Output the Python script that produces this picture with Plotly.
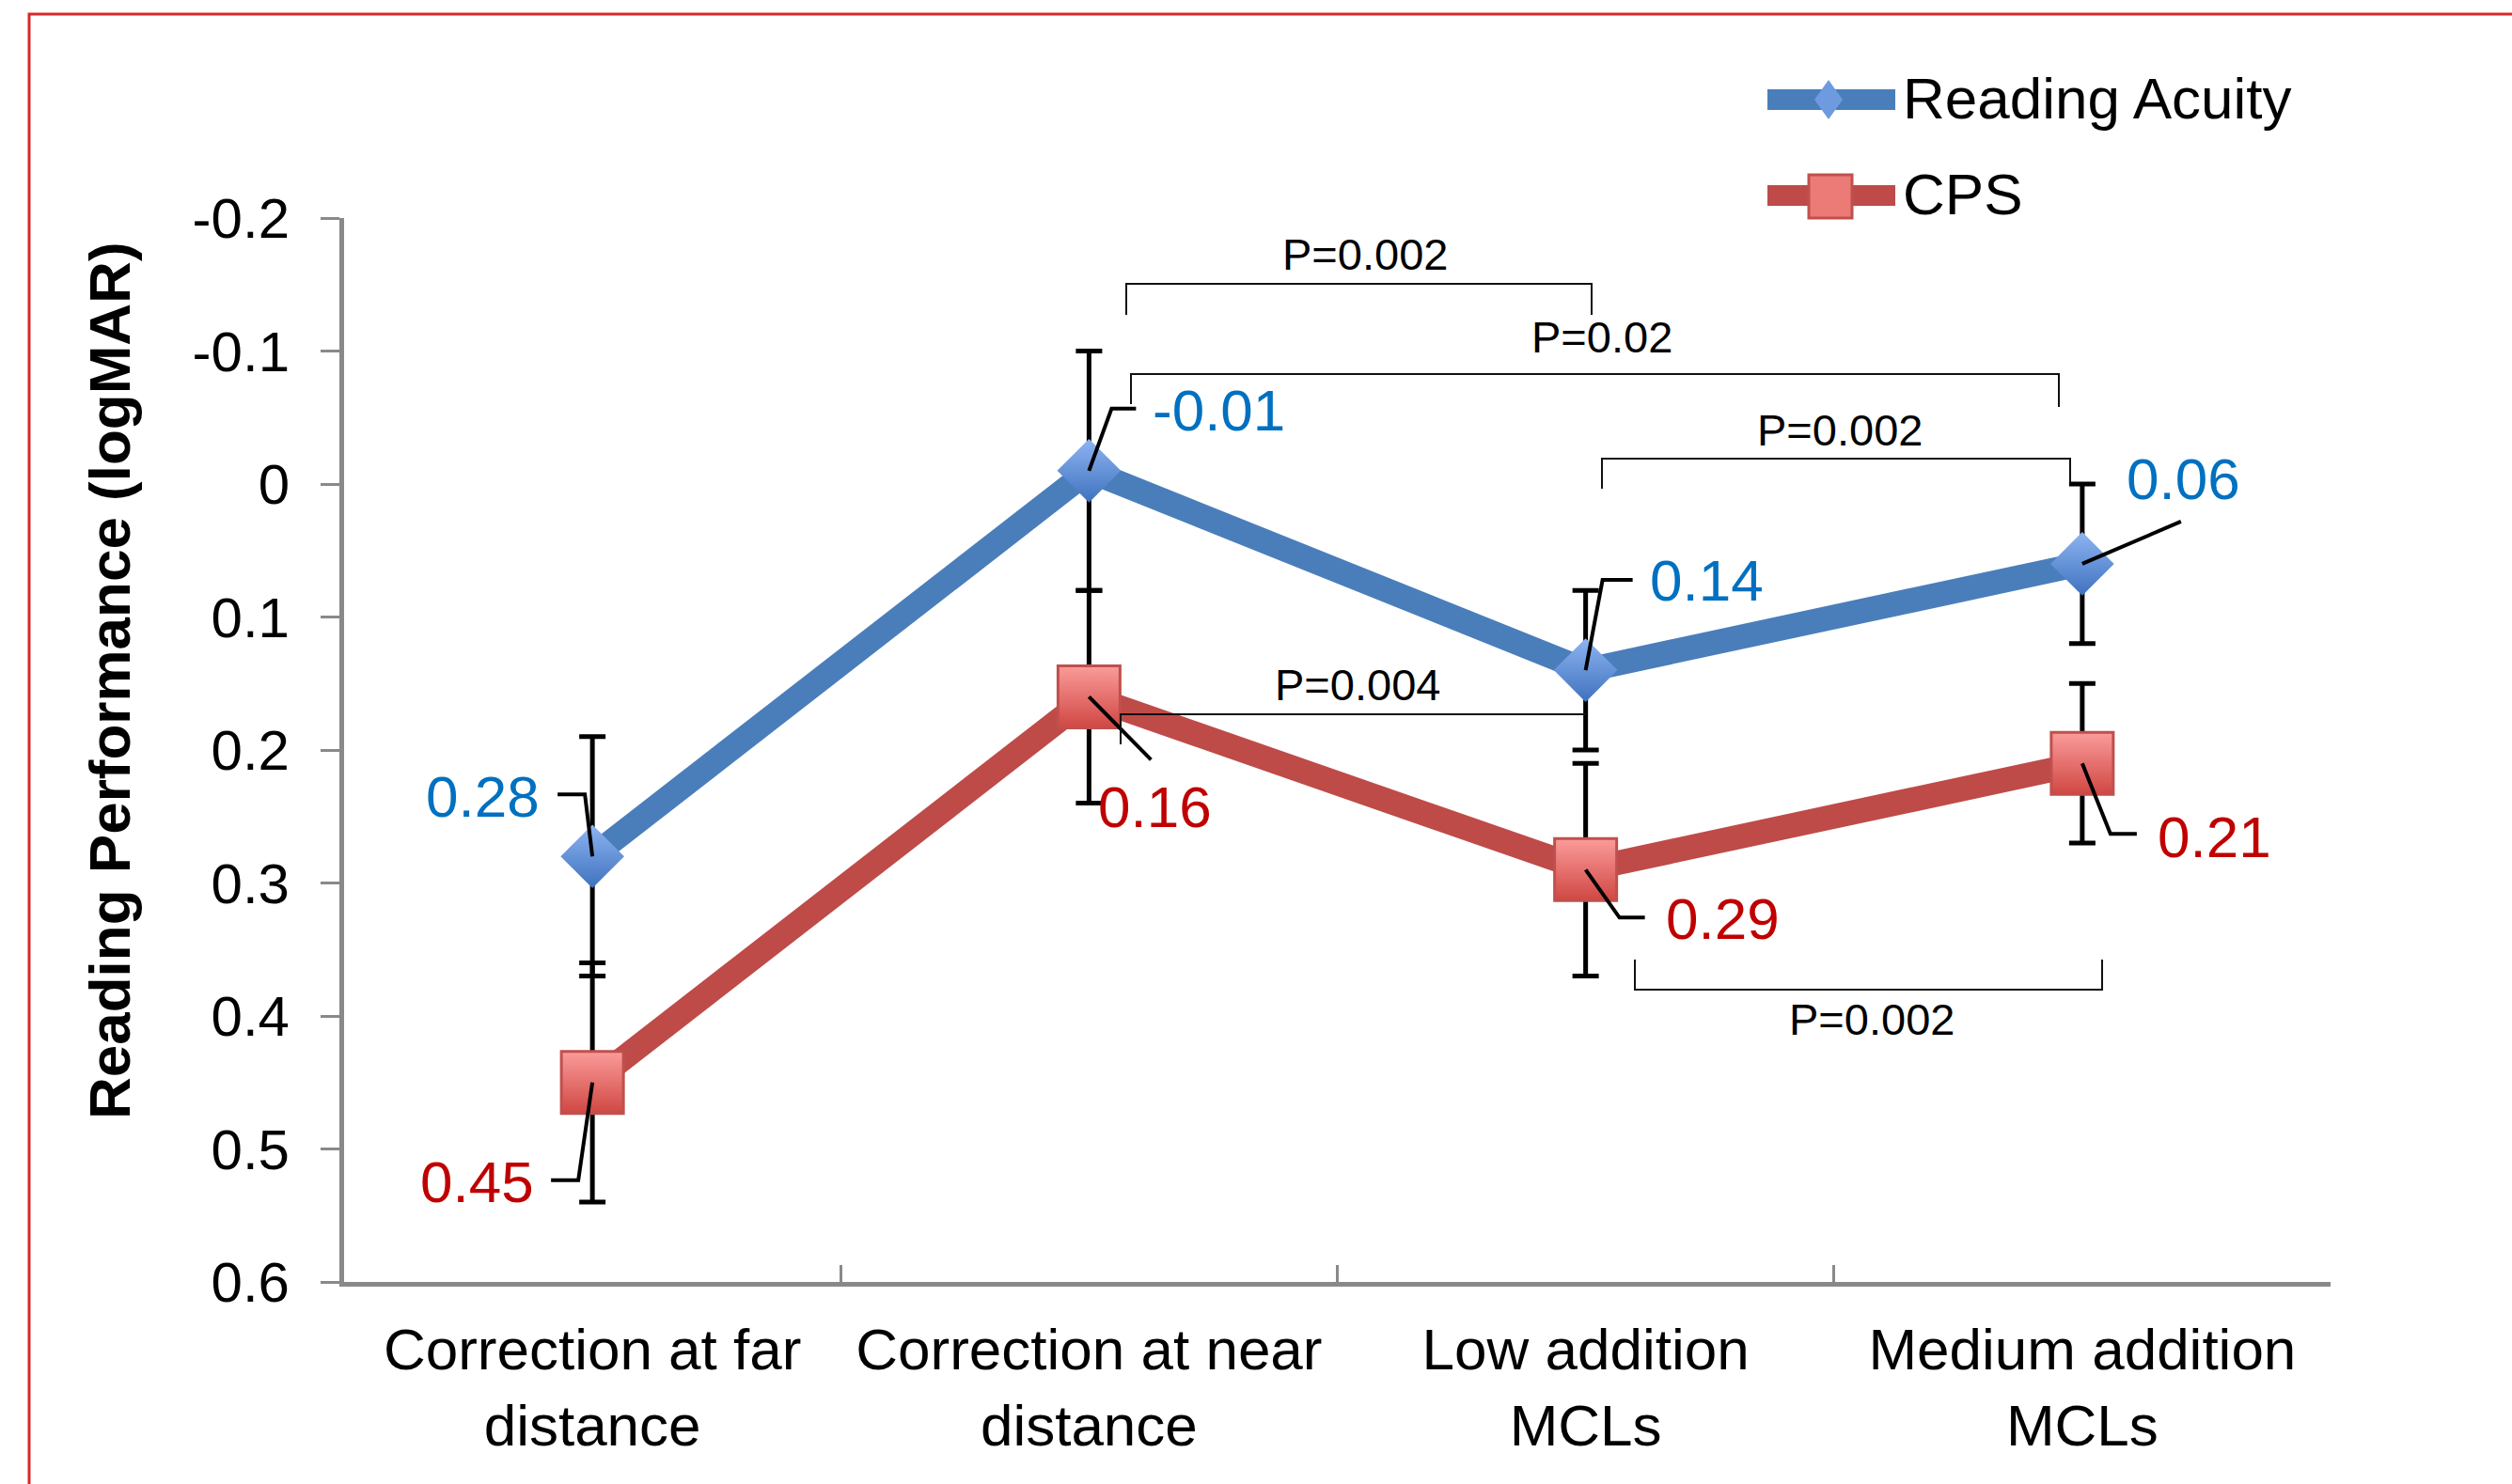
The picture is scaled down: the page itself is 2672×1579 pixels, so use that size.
import plotly.graph_objects as go

# ---------------- data ----------------
categories = ["Correction at far<br>distance", "Correction at near<br>distance",
              "Low addition<br>MCLs", "Medium addition<br>MCLs"]
reading_acuity = [0.28, -0.01, 0.14, 0.06]
reading_acuity_err = [0.09, 0.09, 0.06, 0.06]
cps = [0.45, 0.16, 0.29, 0.21]
cps_err = [0.09, 0.08, 0.08, 0.06]
y_tick_vals = [-0.2, -0.1, 0, 0.1, 0.2, 0.3, 0.4, 0.5, 0.6]
y_tick_text = ["-0.2", "-0.1", "0", "0.1", "0.2", "0.3", "0.4", "0.5", "0.6"]
p_labels = ["P=0.002", "P=0.02", "P=0.002", "P=0.004", "P=0.002"]

# ---------------- layout geometry (pixels) ----------------
W, H = 2672, 1579
L, R, T, B = 366, 193, 232, 215
PW, PH = W - L - R, H - T - B
FONT = "Liberation Sans, Arial, sans-serif"
BLUE, RED = "#4A7EBB", "#BE4B48"
BLUE_TXT, RED_TXT = "#0070C0", "#C00000"
AXIS = "#898989"


def px(X, Y):
    return (X - L) / PW, (H - B - Y) / PH


def path_px(points, close=False):
    s = ""
    for i, (X, Y) in enumerate(points):
        x, y = px(X, Y)
        s += ("M" if i == 0 else "L") + f"{x:.5f},{y:.5f} "
    return s + ("Z" if close else "")


fig = go.Figure()

fig.add_trace(go.Scatter(
    x=categories, y=reading_acuity, mode="lines+markers", name="Reading Acuity",
    line=dict(color=BLUE, width=26),
    marker=dict(symbol="diamond", size=52, color="#8DB4F2",
                gradient=dict(type="vertical", color="#3F72BE"),
                line=dict(width=0)),
    error_y=dict(type="data", array=reading_acuity_err, visible=True,
                 color="black", thickness=5, width=14),
    cliponaxis=False, showlegend=False))

fig.add_trace(go.Scatter(
    x=categories, y=cps, mode="lines+markers", name="CPS",
    line=dict(color=RED, width=26),
    marker=dict(symbol="square", size=66, color="#FA9C9A",
                gradient=dict(type="vertical", color="#D04743"),
                line=dict(width=3, color="#C0504D")),
    error_y=dict(type="data", array=cps_err, visible=True,
                 color="black", thickness=5, width=14),
    cliponaxis=False, showlegend=False))

shapes = []
annotations = []

# ---- data labels with leader lines (pixel offsets from each point, y up) ----
ra_leaders = [[(0, 0), (-8, 66), (-37, 66)],
              [(0, 0), (24, 66), (50, 66)],
              [(0, 0), (18, 96), (50, 96)],
              [(0, 0), (105, 45)]]
ra_text = [(-54, 64, "right"), (66, 64, "left"), (66, 96, "left"), (45, 90, "left")]
cps_leaders = [[(0, 0), (-15, -104), (-44, -104)],
               [(0, 0), (66, -67)],
               [(0, 0), (36, -51), (63, -51)],
               [(0, 0), (30, -75), (58, -75)]]
cps_text = [(-60, -106, "right"), (8, -117, "left"), (83, -52, "left"), (78, -78, "left")]

for series, leaders, texts, col in [(reading_acuity, ra_leaders, ra_text, BLUE_TXT),
                                    (cps, cps_leaders, cps_text, RED_TXT)]:
    for cat, val, pts, (dx, dy, anc) in zip(categories, series, leaders, texts):
        p = "".join(("M" if i == 0 else "L") + f"{a},{b} " for i, (a, b) in enumerate(pts))
        shapes.append(dict(type="path", xref="x", yref="y", xsizemode="pixel",
                           ysizemode="pixel", xanchor=cat, yanchor=val, path=p,
                           line=dict(color="black", width=4), layer="above"))
        label = f"{val:.2f}"
        annotations.append(dict(x=cat, y=val, xref="x", yref="y", text=label,
                                showarrow=False, xanchor=anc, yanchor="middle",
                                xshift=dx, yshift=dy,
                                font=dict(family=FONT, size=62, color=col)))

# ---- significance brackets ----
brackets = [
    [(1198, 335), (1198, 302), (1693, 302), (1693, 335)],
    [(1203, 430), (1203, 398), (2190, 398), (2190, 433)],
    [(1704, 520), (1704, 488), (2202, 488), (2202, 513)],
    [(1192, 792), (1192, 760), (1687, 760)],
    [(1739, 1021), (1739, 1053), (2236, 1053), (2236, 1021)],
]
bracket_text_pos = [(1452, 270), (1704, 358), (1957, 457), (1444, 728), (1991, 1084)]
for pts in brackets:
    shapes.append(dict(type="path", xref="paper", yref="paper", path=path_px(pts),
                       line=dict(color="#111111", width=2)))
for lab, (X, Y) in zip(p_labels, bracket_text_pos):
    x, y = px(X, Y)
    annotations.append(dict(x=x, y=y, xref="paper", yref="paper", text=lab,
                            showarrow=False, xanchor="center", yanchor="middle",
                            font=dict(family=FONT, size=47, color="black")))

# ---- custom legend ----
for Y, col in [(106, BLUE), (208, RED)]:
    x0, y0 = px(1880, Y)
    x1, y1 = px(2016, Y)
    shapes.append(dict(type="line", xref="paper", yref="paper", x0=x0, y0=y0,
                       x1=x1, y1=y1, line=dict(color=col, width=22)))
shapes.append(dict(type="path", xref="paper", yref="paper",
                   path=path_px([(1945, 85), (1960, 106), (1945, 127), (1930, 106)], True),
                   fillcolor="#6E9BE0", line=dict(width=0)))
sx0, sy0 = px(1924, 186)
sx1, sy1 = px(1970, 232)
shapes.append(dict(type="rect", xref="paper", yref="paper", x0=sx0, y0=sy1, x1=sx1, y1=sy0,
                   fillcolor="#EC7B78", line=dict(color="#C0504D", width=3)))
for lab, Y in [("Reading Acuity", 104), ("CPS", 206)]:
    x, y = px(2022, Y)
    annotations.append(dict(x=x, y=y, xref="paper", yref="paper", text=lab,
                            showarrow=False, xanchor="left", yanchor="middle",
                            font=dict(family=FONT, size=62, color="black")))

# ---- y axis title ----
tx, ty = px(116, 724)
annotations.append(dict(x=tx, y=ty, xref="paper", yref="paper",
                        text="<b>Reading Performance (logMAR)</b>", textangle=-90,
                        showarrow=False, xanchor="center", yanchor="middle",
                        font=dict(family=FONT, size=62, color="black")))

# ---- red frame ----
fx0, fy0 = px(31, 15)
fx1, fy1 = px(2700, 1620)
shapes.append(dict(type="rect", xref="paper", yref="paper", x0=fx0, y0=fy1, x1=fx1, y1=fy0,
                   line=dict(color="#D42A2A", width=3), fillcolor="rgba(0,0,0,0)",
                   layer="below"))

fig.update_layout(
    width=W, height=H,
    margin=dict(l=L, r=R, t=T, b=B, autoexpand=False),
    paper_bgcolor="white", plot_bgcolor="white",
    showlegend=False,
    shapes=shapes, annotations=annotations,
    font=dict(family=FONT, color="black"),
    xaxis=dict(type="category", categoryorder="array", categoryarray=categories,
               range=[-0.5, len(categories) - 0.5],
               showline=True, linecolor=AXIS, linewidth=5,
               ticks="inside", tickson="boundaries", ticklen=18, tickwidth=3,
               tickcolor=AXIS, showgrid=False, zeroline=False,
               tickfont=dict(family=FONT, size=62, color="black"),
               ticklabelstandoff=14),
    yaxis=dict(range=[0.6, -0.2], tickvals=y_tick_vals, ticktext=y_tick_text,
               showline=True, linecolor=AXIS, linewidth=5,
               ticks="outside", ticklen=20, tickwidth=3, tickcolor=AXIS,
               showgrid=False, zeroline=False,
               tickfont=dict(family=FONT, size=60, color="black"),
               ticklabelstandoff=21),
)

fig.write_html("out.html")
